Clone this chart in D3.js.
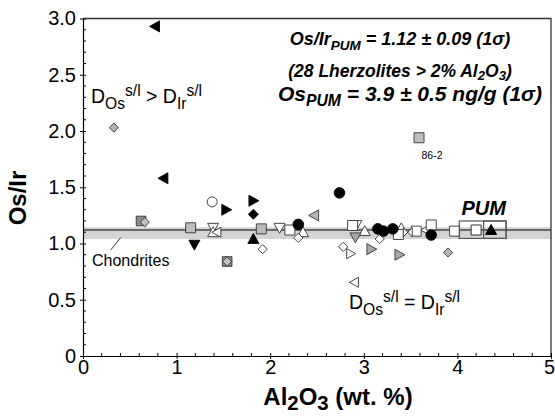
<!DOCTYPE html>
<html>
<head>
<meta charset="utf-8">
<script src="https://cdn.jsdelivr.net/npm/d3@7/dist/d3.min.js"></script>
<style>
  html, body { margin: 0; padding: 0; background: #fff; }
  svg { display: block; font-family: "Liberation Sans", Arial, Helvetica, sans-serif; }
</style>
</head>
<body>
<svg id="chart" width="555" height="418"></svg>
<script>
// ---- data: Al2O3 (wt.%) vs Os/Ir, grouped by symbol ----
const blackLeftTri  = [[0.77, 2.93], [0.86, 1.58]];
const grayDiamond   = [[0.33, 2.03], [3.90, 0.92]];
const openCircle    = [[1.38, 1.37]];
const blackRightTri = [[1.53, 1.30], [1.82, 1.38]];
const blackDiamond  = [[1.82, 1.26]];
const darkSquare    = [[0.62, 1.20], [1.54, 0.84]];
const darkSqDiamond = [[0.66, 1.19], [1.54, 0.84]];
const graySquare    = [[1.15, 1.14], [1.905, 1.13], [3.59, 1.94]];
const blackDownTri  = [[1.19, 0.99]];
const openDownTri   = [[1.39, 1.14], [2.10, 1.14], [2.92, 1.165]];
const openUpTri     = [[1.39, 1.10], [2.35, 1.10], [3.01, 1.11], [3.40, 1.135]];
const openLeftTri   = [[1.43, 1.10], [2.90, 0.655], [3.66, 1.12]];
const blackUpTri    = [[1.82, 1.04]];
const openDiamond   = [[1.92, 0.95], [2.30, 1.05], [2.78, 0.97], [3.17, 1.04]];
const openSquare    = [[2.21, 1.12], [2.88, 1.16], [3.37, 1.08], [3.56, 1.11], [3.72, 1.165], [3.97, 1.11]];
const blackCircle   = [[2.30, 1.17], [2.74, 1.45], [3.15, 1.13], [3.21, 1.11], [3.31, 1.13], [3.72, 1.075]];
const grayLeftTri   = [[2.47, 1.25]];
const grayDownTri   = [[2.91, 1.055]];
const openRightTri  = [[2.86, 0.91]];
const grayRightTri  = [[3.08, 0.95], [3.38, 0.90]];
const openBowtie    = [[3.47, 1.10]];

// primitive upper mantle estimate
const pumSquare   = [[4.20, 1.12]];
const pumTriangle = [[4.36, 1.12]];
const pumBoxes    = [[4.02, 4.52, 1.045, 1.20], [4.28, 4.52, 1.045, 1.20]];

// reference values
const osIrPUM = 1.12;
const chondriteRange = [1.04, 1.145];
const labelled = [{ x: 3.59, y: 1.94, text: "86-2" }];

const xTicks = [0, 1, 2, 3, 4, 5];
const yTicks = [0, 0.5, 1.0, 1.5, 2.0, 2.5, 3.0];

// ---- layout ----
const svg = d3.select("#chart");
const L = 83, R = 551, T = 18.5, B = 356;
const x = d3.scaleLinear().domain([0, 5]).range([L, R]);
const y = d3.scaleLinear().domain([0, 3]).range([B, T]);

// chondrite band + PUM line
svg.append("rect")
  .attr("x", L).attr("width", R - L)
  .attr("y", y(chondriteRange[1]))
  .attr("height", y(chondriteRange[0]) - y(chondriteRange[1]))
  .attr("fill", "#d4d4d4");
svg.append("line")
  .attr("x1", L).attr("x2", R)
  .attr("y1", y(osIrPUM)).attr("y2", y(osIrPUM))
  .attr("stroke", "#000").attr("stroke-width", 1.2);

// frame top/right
svg.append("path")
  .attr("d", `M${L},${T}H${R}V${B}`)
  .attr("fill", "none").attr("stroke", "#333").attr("stroke-width", 1.3);

// axes
const xAxis = svg.append("g").attr("transform", `translate(0,${B})`)
  .call(d3.axisBottom(x).tickValues(xTicks).tickFormat(d3.format("d")).tickSizeInner(3).tickSizeOuter(0).tickPadding(1));
const yAxis = svg.append("g").attr("transform", `translate(${L},0)`)
  .call(d3.axisLeft(y).tickValues(yTicks).tickFormat(d => d === 0 ? "0" : d3.format(".1f")(d)).tickSizeInner(3).tickSizeOuter(0).tickPadding(4));
[xAxis, yAxis].forEach(g => {
  g.select(".domain").attr("stroke", "#000").attr("stroke-width", 1.2);
  g.selectAll(".tick line").attr("stroke", "#000");
  g.selectAll(".tick text").attr("font-size", 20).attr("fill", "#000")
    .attr("font-family", "Liberation Sans, Arial, sans-serif");
});
// major ticks cross the axis line
xAxis.selectAll(".tick line").attr("y1", -3).attr("y2", 3);
yAxis.selectAll(".tick line").attr("x1", 3).attr("x2", -3);
xAxis.selectAll(".tick text").filter(d => d === 5).attr("dx", -2);

// minor ticks inside the plot
const xMinor = d3.range(0, 5.0001, 0.2).filter(v => Math.abs(v - Math.round(v)) > 1e-6);
svg.append("g").selectAll("line").data(xMinor).join("line")
  .attr("x1", d => x(d)).attr("x2", d => x(d))
  .attr("y1", B).attr("y2", B - 3)
  .attr("stroke", "#000");
const yMinor = d3.range(0, 3.0001, 0.1).filter(v => Math.abs(v * 2 - Math.round(v * 2)) > 1e-6);
svg.append("g").selectAll("line").data(yMinor).join("line")
  .attr("x1", L).attr("x2", L + 3)
  .attr("y1", d => y(d)).attr("y2", d => y(d))
  .attr("stroke", "#000");

// ---- symbols ----
const shape = {
  circle:  r => `M${r},0A${r},${r} 0 1,1 ${-r},0A${r},${r} 0 1,1 ${r},0Z`,
  square:  r => `M${-r},${-r}H${r}V${r}H${-r}Z`,
  diamond: r => `M0,${-r}L${r},0L0,${r}L${-r},0Z`,
  triU:    r => `M0,${-r}L${r},${r * 0.8}L${-r},${r * 0.8}Z`,
  triD:    r => `M0,${r}L${r},${-r * 0.8}L${-r},${-r * 0.8}Z`,
  triL:    r => `M${-r},0L${r * 0.8},${-r}L${r * 0.8},${r}Z`,
  triR:    r => `M${r},0L${-r * 0.8},${-r}L${-r * 0.8},${r}Z`,
  bowtie:  r => `M${-r},${-r}L${r},${r}L${r},${-r}L${-r},${r}Z`
};

const layers = [
  { data: darkSquare,    s: "square",  r: 4.8, fill: "#8c8c8c" },
  { data: darkSqDiamond, s: "diamond", r: 4.6, fill: "#c0c0c0" },
  { data: graySquare,    s: "square",  r: 5,   fill: "#bdbdbd" },
  { data: openDownTri,   s: "triD",    r: 5.5, fill: "#fff" },
  { data: openUpTri,     s: "triU",    r: 5.5, fill: "#fff" },
  { data: openLeftTri,   s: "triL",    r: 5,   fill: "#fff" },
  { data: openDiamond,   s: "diamond", r: 4.6, fill: "#fff" },
  { data: openSquare,    s: "square",  r: 5,   fill: "#fff" },
  { data: openRightTri,  s: "triR",    r: 5,   fill: "#fff" },
  { data: openBowtie,    s: "bowtie",  r: 4.5, fill: "#fff" },
  { data: openCircle,    s: "circle",  r: 5,   fill: "#fff" },
  { data: grayDiamond,   s: "diamond", r: 4.6, fill: "#b4b4b4" },
  { data: grayLeftTri,   s: "triL",    r: 5.5, fill: "#b4b4b4" },
  { data: grayDownTri,   s: "triD",    r: 5.5, fill: "#a8a8a8" },
  { data: grayRightTri,  s: "triR",    r: 5.5, fill: "#a8a8a8" },
  { data: blackCircle,   s: "circle",  r: 5.3, fill: "#000" },
  { data: blackLeftTri,  s: "triL",    r: 5.5, fill: "#000" },
  { data: blackRightTri, s: "triR",    r: 5.5, fill: "#000" },
  { data: blackDiamond,  s: "diamond", r: 5,   fill: "#000" },
  { data: blackDownTri,  s: "triD",    r: 5.5, fill: "#000" },
  { data: blackUpTri,    s: "triU",    r: 5.5, fill: "#000" }
];

const marks = svg.append("g");
layers.forEach(l => {
  marks.append("g").selectAll("path").data(l.data).join("path")
    .attr("transform", d => `translate(${x(d[0])},${y(d[1])})`)
    .attr("d", shape[l.s](l.r))
    .attr("fill", l.fill)
    .attr("stroke", l.fill === "#000" ? "#000" : "#333")
    .attr("stroke-width", 0.9);
});

// PUM estimate with its uncertainty boxes
svg.append("g").selectAll("rect").data(pumBoxes).join("rect")
  .attr("x", d => x(d[0])).attr("width", d => x(d[1]) - x(d[0]))
  .attr("y", d => y(d[3])).attr("height", d => y(d[2]) - y(d[3]))
  .attr("fill", "none").attr("stroke", "#555").attr("stroke-width", 1.2);
svg.append("g").selectAll("path").data(pumSquare).join("path")
  .attr("transform", d => `translate(${x(d[0])},${y(d[1])})`)
  .attr("d", shape.square(5)).attr("fill", "#fff").attr("stroke", "#333");
svg.append("g").selectAll("path").data(pumTriangle).join("path")
  .attr("transform", d => `translate(${x(d[0])},${y(d[1])})`)
  .attr("d", shape.triU(5.5)).attr("fill", "#000").attr("stroke", "#000");
svg.append("text")
  .attr("x", x(4.28)).attr("y", 215)
  .attr("text-anchor", "middle")
  .attr("font-size", 20).attr("font-weight", "bold").attr("font-style", "italic")
  .text("PUM");

// sample label
svg.append("g").selectAll("text").data(labelled).join("text")
  .attr("x", d => x(d.x) + 13).attr("y", d => y(d.y) + 21)
  .attr("text-anchor", "middle").attr("font-size", 10.5)
  .text(d => d.text);

// ---- rich-text helper: parts of [text, "sub"|"sup"|null] ----
function rich(g, xPos, yPos, parts, opts) {
  const t = g.append("text")
    .attr("x", xPos).attr("y", yPos)
    .attr("font-size", opts.size)
    .attr("text-anchor", opts.anchor || "start")
    .attr("font-weight", opts.weight || "normal")
    .attr("font-style", opts.style || "normal");
  const down = opts.sub || 0.3;
  let shift = 0;
  parts.forEach(([str, kind]) => {
    const target = kind === "sub" ? down : kind === "sup" ? -0.35 : 0;
    const sp = t.append("tspan")
      .attr("dy", ((target - shift) * opts.size).toFixed(2))
      .text(str);
    if (kind) sp.attr("font-size", opts.size * (opts.scale || 0.75));
    shift = target;
  });
  return t;
}

// annotations
rich(svg, 400, 45, [["Os/Ir"], ["PUM", "sub"], [" = 1.12 ± 0.09 (1σ)"]],
  { size: 18, anchor: "middle", weight: "bold", style: "italic", sub: 0.28 });
rich(svg, 400, 77, [["(28 Lherzolites > 2% Al"], ["2", "sub"], ["O"], ["3", "sub"], [")"]],
  { size: 17.5, anchor: "middle", weight: "bold", style: "italic", sub: 0.18 });
rich(svg, 410, 101, [["Os"], ["PUM", "sub"], [" = 3.9 ± 0.5 ng/g (1σ)"]],
  { size: 21, anchor: "middle", weight: "bold", style: "italic", sub: 0.25 });

rich(svg, 91, 103, [["D"], ["Os", "sub"], ["s/l", "sup"], [" > D"], ["Ir", "sub"], ["s/l", "sup"]],
  { size: 19.5, scale: 0.8 });
rich(svg, 349, 309, [["D"], ["Os", "sub"], ["s/l", "sup"], [" = D"], ["Ir", "sub"], ["s/l", "sup"]],
  { size: 19.5, scale: 0.8 });

svg.append("text").attr("x", 92).attr("y", 266).attr("font-size", 16).text("Chondrites");
svg.append("line")
  .attr("x1", 110.7).attr("y1", 250).attr("x2", 120.7).attr("y2", 237.5)
  .attr("stroke", "#000").attr("stroke-width", 0.8);

// axis titles
rich(svg, 338, 405, [["Al"], ["2", "sub"], ["O"], ["3", "sub"], [" (wt. %)"]],
  { size: 24, anchor: "middle", weight: "bold", scale: 0.85, sub: 0.22 });
svg.append("text")
  .attr("transform", `translate(26,198) rotate(-90)`)
  .attr("text-anchor", "middle")
  .attr("font-size", 24).attr("font-weight", "bold")
  .text("Os/Ir");
</script>
</body>
</html>
